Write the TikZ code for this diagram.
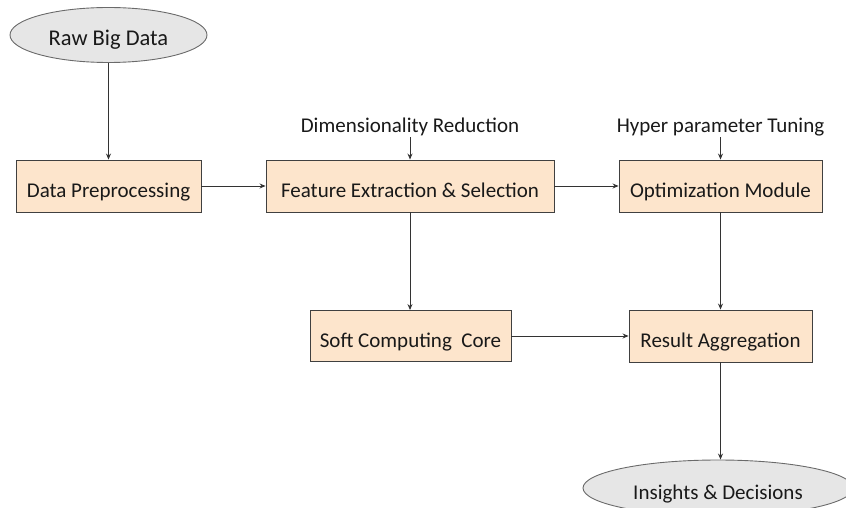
\documentclass[tikz,border=0pt]{standalone}
\usepackage{fontspec}
\setmainfont{Carlito}
\usetikzlibrary{shapes.geometric,arrows.meta}
\definecolor{boxfill}{HTML}{FDE5CC}
\definecolor{boxline}{HTML}{404040}
\definecolor{ovalfill}{HTML}{E6E6E6}
\definecolor{ovalline}{HTML}{6A6A6A}
\tikzset{
  labelfont/.style={font=\fontsize{21}{24}\selectfont, text=black!90},
  stagebox/.style={draw=boxline, fill=boxfill, line width=0.9pt, rectangle,
    inner sep=0pt, labelfont, text height=22pt, text depth=0pt},
  terminal/.style={draw=ovalline, fill=ovalfill, line width=0.9pt, ellipse,
    inner sep=0pt, labelfont, text height=22pt, text depth=0pt},
  sidelabel/.style={inner sep=1pt, labelfont},
  flow/.style={draw=black!80, line width=0.8pt, -{Stealth[length=6pt,width=5pt]}}
}
\begin{document}
\begin{tikzpicture}[x=1pt,y=-1pt]
  \useasboundingbox (0,0) rectangle (846,508);
  \clip (0,0) rectangle (846,508);

  % stages
  \node[terminal, minimum width=197pt, minimum height=55pt,
        font=\fontsize{22.5}{26}\selectfont] (raw) at (108.5,35) {Raw Big Data};
  \node[stagebox, minimum width=185pt, minimum height=52pt] (dp) at (108.5,186) {Data Preprocessing};
  \node[stagebox, minimum width=288pt, minimum height=52pt] (fe) at (410,186) {Feature Extraction \& Selection};
  \node[stagebox, minimum width=203pt, minimum height=52pt] (om) at (720.5,186) {Optimization Module};
  \node[stagebox, minimum width=201pt, minimum height=51pt] (sc) at (410.5,336) {Soft Computing\ \ Core};
  \node[stagebox, minimum width=183pt, minimum height=52pt] (ra) at (720.5,336) {Result Aggregation};
  \node[terminal, minimum width=270pt, minimum height=56pt] (id) at (718,488) {Insights \& Decisions};

  % side inputs
  \node[sidelabel, anchor=base] (dr) at (410,132.5) {Dimensionality Reduction};
  \node[sidelabel, anchor=base] (hp) at (720.5,132.5) {Hyper parameter Tuning};

  % connectors
  \draw[flow] (raw.south) -- (dp.north);
  \draw[flow] (dp.east) -- (fe.west);
  \draw[flow] (fe.east) -- (om.west);
  \draw[flow] (dr.south) -- (fe.north);
  \draw[flow] (hp.south) -- (om.north);
  \draw[flow] (fe.south) -- (fe.south |- sc.north);
  \draw[flow] (om.south) -- (ra.north);
  \draw[flow] (sc.east) -- (ra.west);
  \draw[flow] (ra.south) -- (ra.south |- id.north);
\end{tikzpicture}
\end{document}
